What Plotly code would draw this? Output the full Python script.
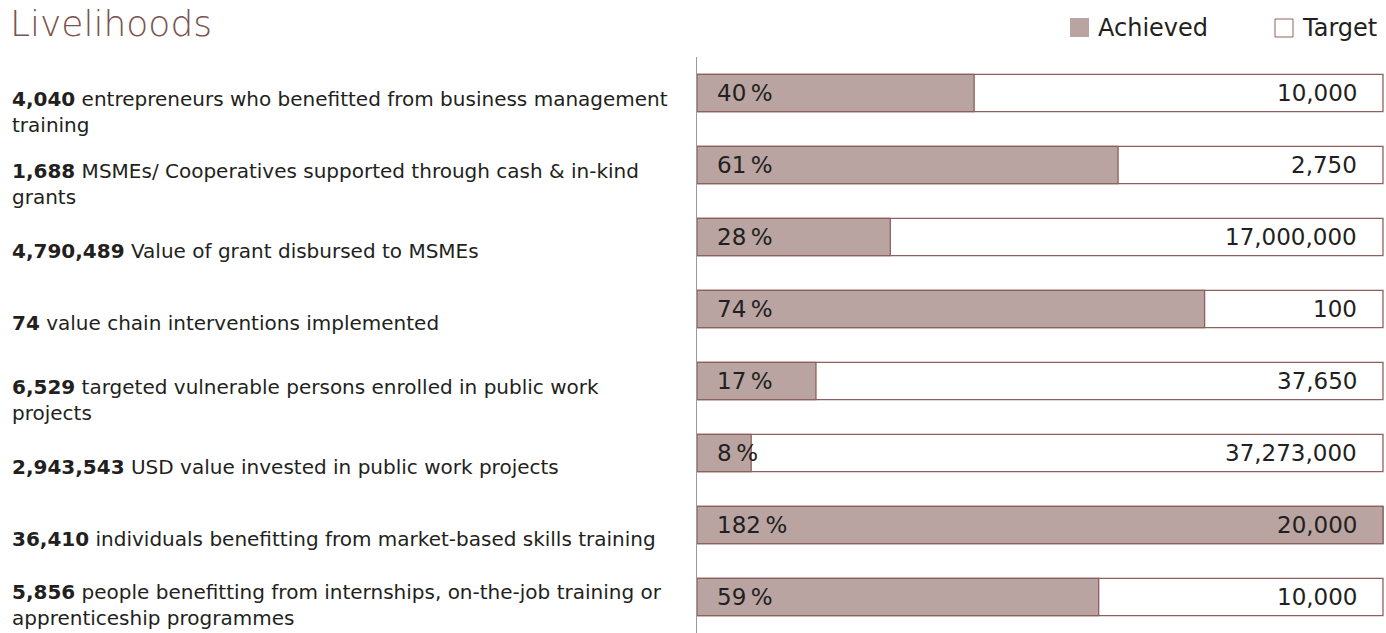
import plotly.graph_objects as go

# Livelihoods indicators: achieved vs. target
achieved = [4040, 1688, 4790489, 74, 6529, 2943543, 36410, 5856]
targets = [10000, 2750, 17000000, 100, 37650, 37273000, 20000, 10000]
descriptions = [
    "entrepreneurs who benefitted from business management<br>training",
    "MSMEs/ Cooperatives supported through cash & in-kind<br>grants",
    "Value of grant disbursed to MSMEs",
    "value chain interventions implemented",
    "targeted vulnerable persons enrolled in public work<br>projects",
    "USD value invested in public work projects",
    "individuals benefitting from market-based skills training",
    "people benefitting from internships, on-the-job training or<br>apprenticeship programmes",
]

FONT = "DejaVu Sans"
TEXT = "#231f20"
FILL = "#b9a4a2"
EDGE = "#8d605d"
TITLE_COLOR = "#7a5350"

W, H = 1386, 633
M_L, M_R, M_T, M_B = 697, 2, 57, 0
PW, PH = W - M_L - M_R, H - M_T - M_B


def px_x(x):
    return (x - M_L) / PW


def px_y(y):
    return (H - M_B - y) / PH


rows = list(range(len(achieved)))
ratio = [a / t for a, t in zip(achieved, targets)]
filled = [min(r, 1.0) for r in ratio]
pct = [round(r * 100) for r in ratio]

fig = go.Figure()
fig.add_trace(go.Bar(
    y=rows, x=[1.0] * len(rows), orientation="h", width=0.515,
    marker=dict(color="white", line=dict(color=EDGE, width=1.3)),
    name="Target", showlegend=False, hoverinfo="skip",
))
fig.add_trace(go.Bar(
    y=rows, x=filled, orientation="h", width=0.515,
    marker=dict(color=FILL, line=dict(color=EDGE, width=1.3)),
    name="Achieved", showlegend=False, hoverinfo="skip",
))

annotations = []
for i in rows:
    two_lines = "<br>" in descriptions[i]
    shift = -19 if two_lines else -14
    if i == len(rows) - 1 and two_lines:
        shift = -8
    annotations.append(dict(
        xref="paper", yref="y", x=px_x(10), y=i, xanchor="left", yanchor="middle",
        yshift=shift, align="left", showarrow=False,
        text=f"<b>{achieved[i]:,}</b> {descriptions[i]}",
        font=dict(family=FONT, size=20, color=TEXT),
    ))
    annotations.append(dict(
        xref="x", yref="y", x=0, y=i, xanchor="left", yanchor="middle",
        xshift=18, showarrow=False, text=f"{pct[i]}\u2009%",
        font=dict(family=FONT, size=23, color=TEXT),
    ))
    annotations.append(dict(
        xref="x", yref="y", x=1.0, y=i, xanchor="right", yanchor="middle",
        xshift=-24, showarrow=False, text=f"{targets[i]:,}",
        font=dict(family=FONT, size=23, color=TEXT),
    ))

# title
annotations.append(dict(
    xref="paper", yref="paper", x=px_x(8), y=px_y(24), xanchor="left", yanchor="middle",
    showarrow=False, text="Livelihoods",
    font=dict(family=FONT, size=36, color=TITLE_COLOR, weight=300),
))
# legend labels
annotations.append(dict(
    xref="paper", yref="paper", x=px_x(1096), y=px_y(28), xanchor="left", yanchor="middle",
    showarrow=False, text="Achieved", font=dict(family=FONT, size=24, color=TEXT),
))
annotations.append(dict(
    xref="paper", yref="paper", x=px_x(1300), y=px_y(28), xanchor="left", yanchor="middle",
    showarrow=False, text="Target", font=dict(family=FONT, size=24, color=TEXT),
))

shapes = [
    dict(type="rect", xref="paper", yref="paper",
         x0=px_x(1070), x1=px_x(1089), y0=px_y(37), y1=px_y(18),
         fillcolor=FILL, line=dict(width=0)),
    dict(type="rect", xref="paper", yref="paper",
         x0=px_x(1275), x1=px_x(1293), y0=px_y(37), y1=px_y(19),
         fillcolor="white", line=dict(color=EDGE, width=1)),
]

fig.update_layout(
    width=W, height=H,
    margin=dict(l=M_L, r=M_R, t=M_T, b=M_B),
    paper_bgcolor="white", plot_bgcolor="white",
    barmode="overlay", showlegend=False,
    xaxis=dict(range=[0, 1.0015], visible=False, fixedrange=True),
    yaxis=dict(range=[len(rows) - 0.5, -0.5], showticklabels=False, showgrid=False,
               zeroline=False, showline=True, linecolor="#9a9a9a", linewidth=1,
               ticks="", fixedrange=True),
    annotations=annotations, shapes=shapes,
)

fig.write_html("out.html")
